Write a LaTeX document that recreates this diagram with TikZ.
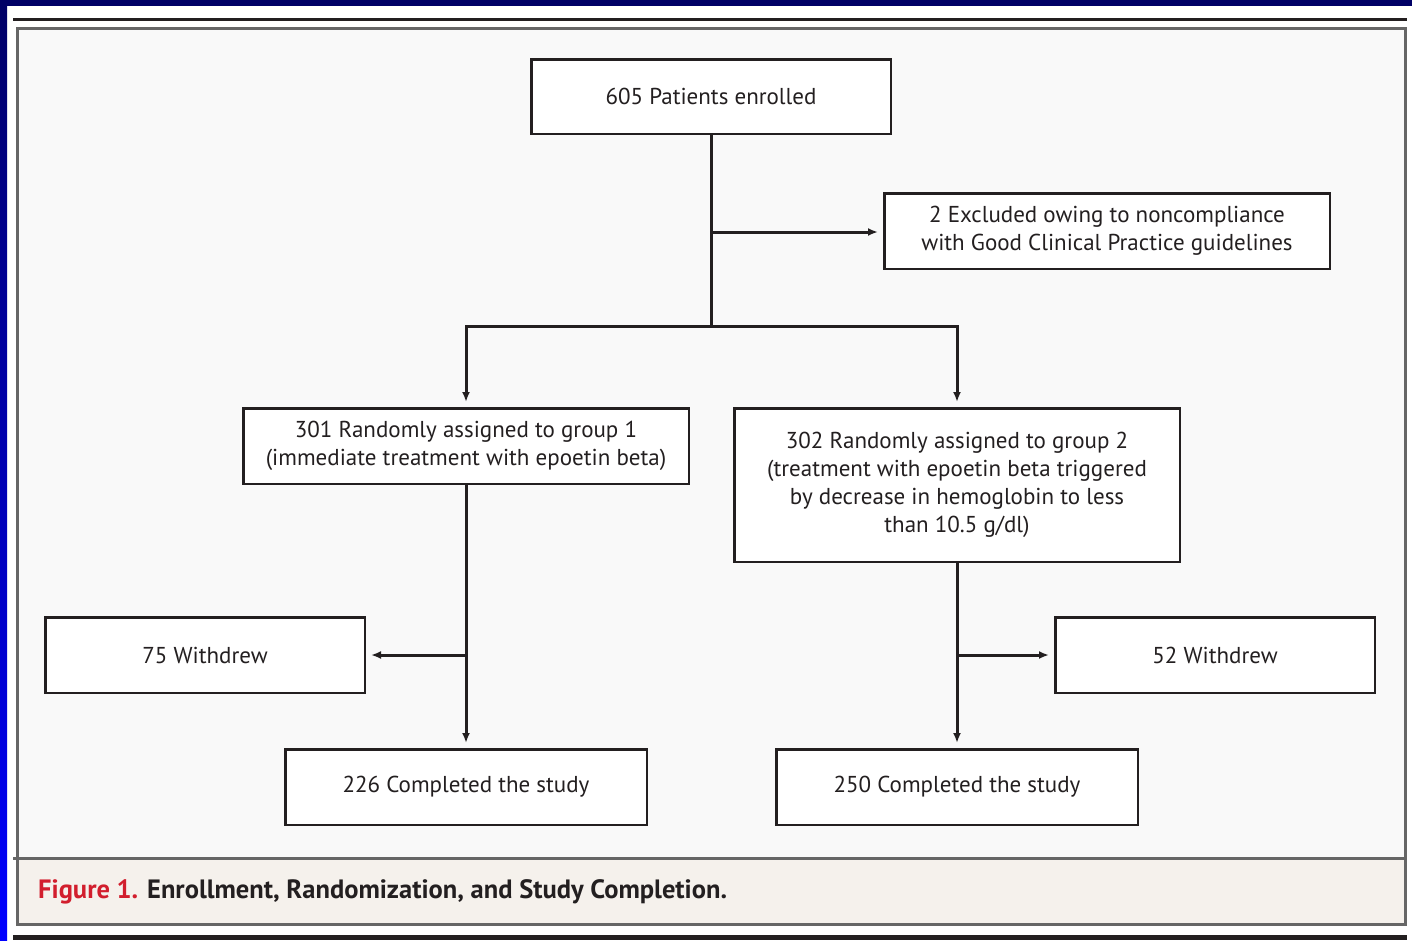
\documentclass[tikz,border=0pt]{standalone}
\usepackage{fontspec}
\setmainfont{PT Sans}
\usetikzlibrary{arrows.meta}
\definecolor{navy}{RGB}{0,0,102}
\definecolor{bblue}{RGB}{0,0,255}
\definecolor{ink}{RGB}{35,31,32}
\definecolor{frame}{RGB}{102,102,102}
\definecolor{panel}{RGB}{249,249,249}
\definecolor{capbg}{RGB}{245,241,236}
\definecolor{figred}{RGB}{210,30,45}
\tikzset{
  flowbox/.style={draw=ink, line width=2.5pt, fill=white, align=center, inner sep=0pt,
    font=\fontsize{23}{28}\selectfont, text=ink},
  conn/.style={draw=ink, line width=3pt},
  arr/.style={conn, -{Latex[length=10pt,width=8pt]}, shorten >=5pt},
}
\begin{document}
\begin{tikzpicture}[x=1pt,y=-1pt]
\useasboundingbox (0,0) rectangle (1412,940);
% page background
\fill[white] (0,0) rectangle (1412,940);
\fill[navy] (0,0) rectangle (1412,6);
\shade[top color=navy, bottom color=bblue] (0,0) rectangle (7,940);
% rules
\fill[ink] (13,18) rectangle (1407,21);
\fill[ink] (13,935) rectangle (1407,940);
% panel
\fill[panel] (17.5,28.5) rectangle (1405.5,858.5);
\fill[capbg] (17.5,858.5) rectangle (1405.5,924.5);
\draw[frame, line width=3pt] (17.5,28.5) rectangle (1405.5,924.5);
\draw[frame, line width=3pt] (13,858.5) -- (1407,858.5);
% caption
\node[anchor=base west, inner sep=0pt, font=\fontsize{26.5}{30}\selectfont\bfseries] (cap) at (38,898)
  {\textcolor{figred}{Figure 1.} \textcolor{ink}{Enrollment, Randomization, and Study Completion.}};
% boxes
\node[flowbox, minimum width=359.5pt, minimum height=74.5pt] (A) at (711,96.5) {605 Patients enrolled};
\node[flowbox, minimum width=445.5pt, minimum height=75.5pt] (B) at (1107,231) {2 Excluded owing to noncompliance\\with Good Clinical Practice guidelines};
\node[flowbox, minimum width=445.5pt, minimum height=75.5pt] (C) at (466,446) {301 Randomly assigned to group 1\\(immediate treatment with epoetin beta)};
\node[flowbox, minimum width=445.5pt, minimum height=153.5pt] (D) at (957,485) {302 Randomly assigned to group 2\\(treatment with epoetin beta triggered\\by decrease in hemoglobin to less\\than 10.5 g/dl)};
\node[flowbox, minimum width=319.5pt, minimum height=75.5pt] (E) at (205,655) {75 Withdrew};
\node[flowbox, minimum width=319.5pt, minimum height=75.5pt] (F) at (1215,655) {52 Withdrew};
\node[flowbox, minimum width=361.5pt, minimum height=75.5pt] (G) at (466,787) {226 Completed the study};
\node[flowbox, minimum width=361.5pt, minimum height=75.5pt] (H) at (957,787) {250 Completed the study};
% connectors
\coordinate (split) at (711,326);
\coordinate (exc) at (711,232);
\draw[conn] (A.south) -- (split);
\draw[arr] (exc) -- (exc -| B.west);
\draw[arr] (split) -| (C.north);
\draw[arr] (split) -| (D.north);
\draw[arr] (C.south) -- (G.north);
\draw[arr] (D.south) -- (H.north);
\coordinate (cw) at (C.south |- E.east);
\coordinate (dw) at (D.south |- F.west);
\draw[arr] (cw) -- (E.east);
\draw[arr] (dw) -- (F.west);
\end{tikzpicture}
\end{document}
